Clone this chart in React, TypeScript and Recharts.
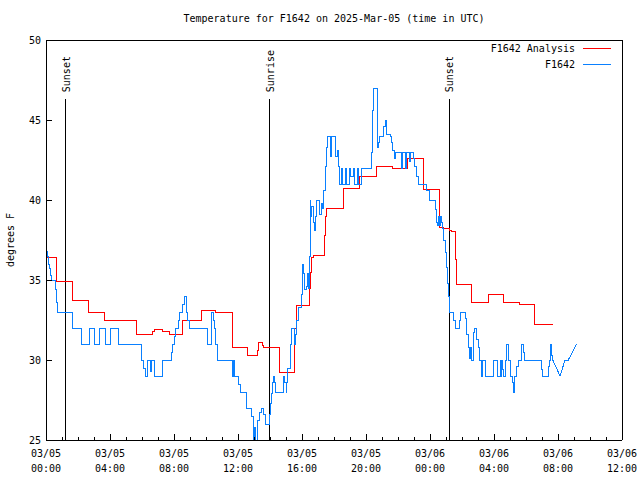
import React from "react";
import { LineChart, Line, XAxis, YAxis, ReferenceLine, Legend } from "recharts";

const FONT = "'DejaVu Sans Mono', 'Liberation Mono', monospace";

// station readings, hours since 03/05 00:00 UTC
const obsHours = [
  0.04, 0.1, 0.15, 0.21, 0.29, 0.36, 0.58, 0.67, 0.71, 1.68, 2.2, 2.72, 3.0, 3.32, 3.72, 4.0, 4.5,
  5.95, 6.1, 6.2, 6.32, 6.5, 6.6, 6.75, 7.27, 7.82, 7.9, 8.0, 8.12, 8.27, 8.37, 8.55, 8.65, 8.75,
  8.85, 8.95, 10.12, 10.35, 10.45, 10.55, 10.62, 10.7, 11.67, 11.72, 11.78, 12.06, 12.17, 12.5,
  12.86, 12.96, 13.06, 13.12, 13.22, 13.35, 13.44, 13.6, 13.69, 13.96, 14.04, 14.1, 14.17, 14.21,
  14.27, 14.37, 14.83, 14.9, 15.0, 15.04, 15.1, 15.25, 15.29, 15.33, 15.55, 15.62, 15.67, 15.77,
  15.98, 16.02, 16.08, 16.15, 16.29, 16.35, 16.42, 16.46, 16.5, 16.56, 16.62, 16.71, 16.81, 16.85,
  16.92, 17.12, 17.19, 17.29, 17.37, 17.44, 17.52, 17.58, 17.8, 17.87, 18.12, 18.21, 18.27, 18.33,
  18.45, 18.55, 18.7, 18.8, 18.95, 19.05, 19.2, 19.3, 19.45, 19.55, 19.7,
  20.37, 20.42, 20.45, 20.7, 20.73, 20.8, 20.85, 21.08, 21.19, 21.25, 21.3, 21.5, 21.6, 21.67,
  21.75, 21.85, 22.2, 22.3, 22.45, 22.55, 22.7, 22.8, 22.95, 23.06, 23.17, 23.27, 23.79, 23.96,
  24.36, 24.42, 24.48, 24.52, 24.58, 24.67, 24.73, 24.79, 24.87, 24.94, 25.0, 25.08, 25.17, 25.21,
  25.48, 25.6, 25.85, 25.92, 26.2, 26.3, 26.38, 26.48, 26.56, 26.62, 26.7, 26.8, 26.9, 27.0, 27.12,
  27.23, 27.3, 27.44, 27.96, 28.2, 28.38, 28.44, 28.48, 28.54, 28.62, 28.69, 28.79, 28.92, 29.04,
  29.15, 29.21, 29.3, 29.42, 29.52, 29.7, 29.83, 29.9, 30.95, 31.04, 31.38, 31.46, 31.5, 31.6, 31.67,
];
const obsTemps = [
  36.8, 36.5, 36, 35.7, 35.3, 35, 34.4, 33.6, 33, 32, 31, 32, 31, 32, 31, 32, 31,
  30, 29.5, 29, 30, 29.3, 30, 29, 30, 30.5, 31, 31.5, 32, 32.5, 33, 33.5, 34, 33,
  32.5, 32, 31, 33, 32.5, 32, 31, 30, 29, 30, 29, 28.5, 28, 27,
  26.5, 24.6, 25.8, 24.6, 26.2, 26.7, 27, 26.6, 26, 26.6, 27.3, 27.9, 28.6, 29,
  28.6, 28, 29, 28.6, 28, 28.6, 29.5, 30, 31, 32, 31, 31.6, 32.5, 33.3,
  34.1, 36, 35.4, 34.4, 34.6, 35.4, 34.5, 36.5, 40, 39, 39.6, 38.6, 38.1, 39,
  40, 39.1, 39.8, 39.5, 40.6, 42.1, 43.3, 44, 42.7, 44, 42.7, 43.1, 42.1, 41,
  42, 41, 42, 41, 42, 41.5, 42, 41, 42, 41, 42,
  43, 45.6, 47, 45.6, 43.3, 43.6, 44, 44.6, 45, 44.6, 44.1, 44, 43.6, 43.1,
  42.6, 43, 42, 43, 42, 43, 42.4, 43, 42.6, 42.1, 41.5, 41, 40.6, 40,
  39.4, 38.6, 38.4, 39, 38.4, 39, 38.6, 38.2, 37.5, 36.7, 35.8, 34.8, 34, 33,
  32.5, 32, 32.5, 33, 32.6, 31.6, 30.8, 30.1, 30.8, 30, 31.7, 32, 31.3, 30.8, 30,
  29, 30, 29, 30, 29, 30, 29, 30, 29.4, 29, 30, 31, 30, 29,
  28.6, 28, 29, 29.6, 30, 31, 30.5, 30, 29.4, 29, 29.6, 30, 31, 30.3, 30,
];
// sparse readings at the end of the record
const obsTailHours = [31.67, 32.13, 32.44, 32.64, 33.17];
const obsTailTemps = [30, 29, 30, 30, 31];

const analysisHours = [
  0, 0.67, 1.64, 2.67, 3.67, 4.7, 5.67, 6.67, 6.75, 7.25, 7.7, 8.54, 9.69, 10.6, 11.67, 12.6,
  13.2, 13.27, 13.5, 13.6, 14.6, 15.56, 15.64, 16.46, 16.54, 16.62, 16.7, 17.38, 17.48, 17.56,
  18.6, 19.6, 20.67, 21.67, 22.6, 23.6, 24.6, 24.85, 25.2, 25.35, 25.6, 25.66, 26.6, 27.65,
  28.6, 29.6, 30.5, 30.55, 31.67,
];
const analysisTemps = [
  36.4, 34.9, 33.7, 33.0, 32.45, 32.5, 31.6, 31.8, 31.9, 31.8, 31.6, 32.45, 33.1, 33.0, 30.8, 30.3,
  30.6, 31.1, 30.9, 30.8, 29.25, 32, 33.4, 34.5, 35.5, 36.4, 36.56, 37.8, 39, 39.5,
  40.7, 41.46, 42.1, 41.98, 42.6, 40.67, 38.3, 38.2, 38.1, 38.05, 36.3, 34.75, 33.6, 34.1,
  33.6, 33.5, 32.8, 32.25, 32.25,
];

const sunHours = [1.22, 13.98, 25.19];
const sunLabels = ["Sunset", "Sunrise", "Sunset"];
const sunLineTop = 46.3;

const xTicks = Array.from({ length: 37 }, (_, i) => i);
const tickDates = ["03/05", "03/05", "03/05", "03/05", "03/05", "03/05", "03/06", "03/06", "03/06", "03/06"];
const tickTimes = ["00:00", "04:00", "08:00", "12:00", "16:00", "20:00", "00:00", "04:00", "08:00", "12:00"];
const yTicks = [25, 30, 35, 40, 45, 50];

const toPoints = (hours: number[], temps: number[]) =>
  hours.map((hour, i) => ({ hour, temp: temps[i] }));

const obsData = toPoints(obsHours, obsTemps);
const obsTail = toPoints(obsTailHours, obsTailTemps);
const analysisData = toPoints(analysisHours, analysisTemps);

const RED = "#ff0000";
const BLUE = "#0a80ff";

const BottomTick = ({ x, y, payload }: any) => {
  const h = payload.value;
  const major = h % 4 === 0;
  return (
    <g>
      <line x1={x} x2={x} y1={y} y2={y - (major ? 6 : 3)} stroke="#000" />
      {major && (
        <text textAnchor="middle" fontFamily={FONT} fontSize={10} fill="#000">
          <tspan x={x} y={y + 17}>{tickDates[h / 4]}</tspan>
          <tspan x={x} y={y + 32}>{tickTimes[h / 4]}</tspan>
        </text>
      )}
    </g>
  );
};

const TopTick = ({ x, y, payload }: any) => {
  const major = payload.value % 4 === 0;
  return <line x1={x} x2={x} y1={y} y2={y + (major ? 6 : 3)} stroke="#000" />;
};

const LeftTick = ({ x, y, payload }: any) => (
  <g>
    <line x1={x} x2={x + 6} y1={y} y2={y} stroke="#000" />
    <text x={x - 5} y={y + 4} textAnchor="end" fontFamily={FONT} fontSize={10} fill="#000">
      {payload.value}
    </text>
  </g>
);

const RightTick = ({ x, y }: any) => <line x1={x} x2={x - 6} y1={y} y2={y} stroke="#000" />;

const LegendBox = () => (
  <div style={{ fontFamily: FONT, fontSize: 10, color: "#000" }}>
    {[
      { label: "F1642 Analysis", color: RED },
      { label: "F1642", color: BLUE },
    ].map((r) => (
      <div
        key={r.label}
        style={{ display: "flex", alignItems: "center", justifyContent: "flex-end", height: 16 }}
      >
        <span>{r.label}</span>
        <span
          style={{ display: "inline-block", width: 28, borderTop: `1px solid ${r.color}`, marginLeft: 8 }}
        />
      </div>
    ))}
  </div>
);

export default function App() {
  return (
    <div
      style={{
        position: "absolute",
        left: 0,
        top: 0,
        width: 640,
        height: 480,
        background: "#fff",
        shapeRendering: "crispEdges",
      }}
    >
      <div
        style={{
          position: "absolute",
          left: 46,
          top: 13,
          width: 576,
          textAlign: "center",
          fontFamily: FONT,
          fontSize: 10,
          lineHeight: "12px",
        }}
      >
        Temperature for F1642 on 2025-Mar-05 (time in UTC)
      </div>
      <LineChart width={640} height={480} margin={{ top: 39, right: 17, bottom: 39, left: 45 }}>
        <XAxis
          dataKey="hour"
          type="number"
          domain={[0, 36]}
          ticks={xTicks}
          interval={0}
          allowDataOverflow
          height={1}
          tickSize={0}
          tickMargin={0}
          tickLine={false}
          tick={<BottomTick />}
          axisLine={{ stroke: "#000" }}
        />
        <XAxis
          xAxisId="top"
          orientation="top"
          dataKey="hour"
          type="number"
          domain={[0, 36]}
          ticks={xTicks}
          interval={0}
          height={1}
          tickSize={0}
          tickMargin={0}
          tickLine={false}
          tick={<TopTick />}
          axisLine={{ stroke: "#000" }}
        />
        <YAxis
          type="number"
          domain={[25, 50]}
          ticks={yTicks}
          interval={0}
          allowDataOverflow
          width={1}
          tickSize={0}
          tickMargin={0}
          tickLine={false}
          tick={<LeftTick />}
          axisLine={{ stroke: "#000" }}
          label={{
            content: () => (
              <text
                transform="translate(14,240) rotate(-90)"
                textAnchor="middle"
                fontFamily={FONT}
                fontSize={10}
                fill="#000"
              >
                degrees F
              </text>
            ),
          }}
        />
        <YAxis
          yAxisId="right"
          orientation="right"
          type="number"
          domain={[25, 50]}
          ticks={yTicks}
          interval={0}
          width={1}
          tickSize={0}
          tickMargin={0}
          tickLine={false}
          tick={<RightTick />}
          axisLine={{ stroke: "#000" }}
        />
        {sunHours.map((h, i) => (
          <ReferenceLine
            key={i}
            segment={[
              { x: h, y: 25 },
              { x: h, y: sunLineTop },
            ]}
            stroke="#000"
            strokeWidth={1}
            label={{
              content: (p: any) => {
                const vb = p.viewBox || {};
                return (
                  <text
                    transform={`translate(${(vb.x ?? 0) + 4},${(vb.y ?? 0) - 7}) rotate(-90)`}
                    textAnchor="start"
                    fontFamily={FONT}
                    fontSize={10}
                    fill="#000"
                  >
                    {sunLabels[i]}
                  </text>
                );
              },
            }}
          />
        ))}
        <Line
          data={analysisData}
          dataKey="temp"
          name="F1642 Analysis"
          type="stepAfter"
          stroke={RED}
          strokeWidth={1}
          dot={false}
          activeDot={false}
          isAnimationActive={false}
        />
        <Line
          data={obsData}
          dataKey="temp"
          name="F1642"
          type="stepAfter"
          stroke={BLUE}
          strokeWidth={1}
          dot={false}
          activeDot={false}
          isAnimationActive={false}
        />
        <Line
          data={obsTail}
          dataKey="temp"
          name="F1642 tail"
          type="linear"
          stroke={BLUE}
          strokeWidth={1}
          dot={false}
          activeDot={false}
          legendType="none"
          isAnimationActive={false}
        />
        <Legend
          layout="vertical"
          align="center"
          verticalAlign="middle"
          content={<LegendBox />}
          wrapperStyle={{ left: 420, top: 40, width: 191, height: 32 }}
        />
      </LineChart>
    </div>
  );
}
